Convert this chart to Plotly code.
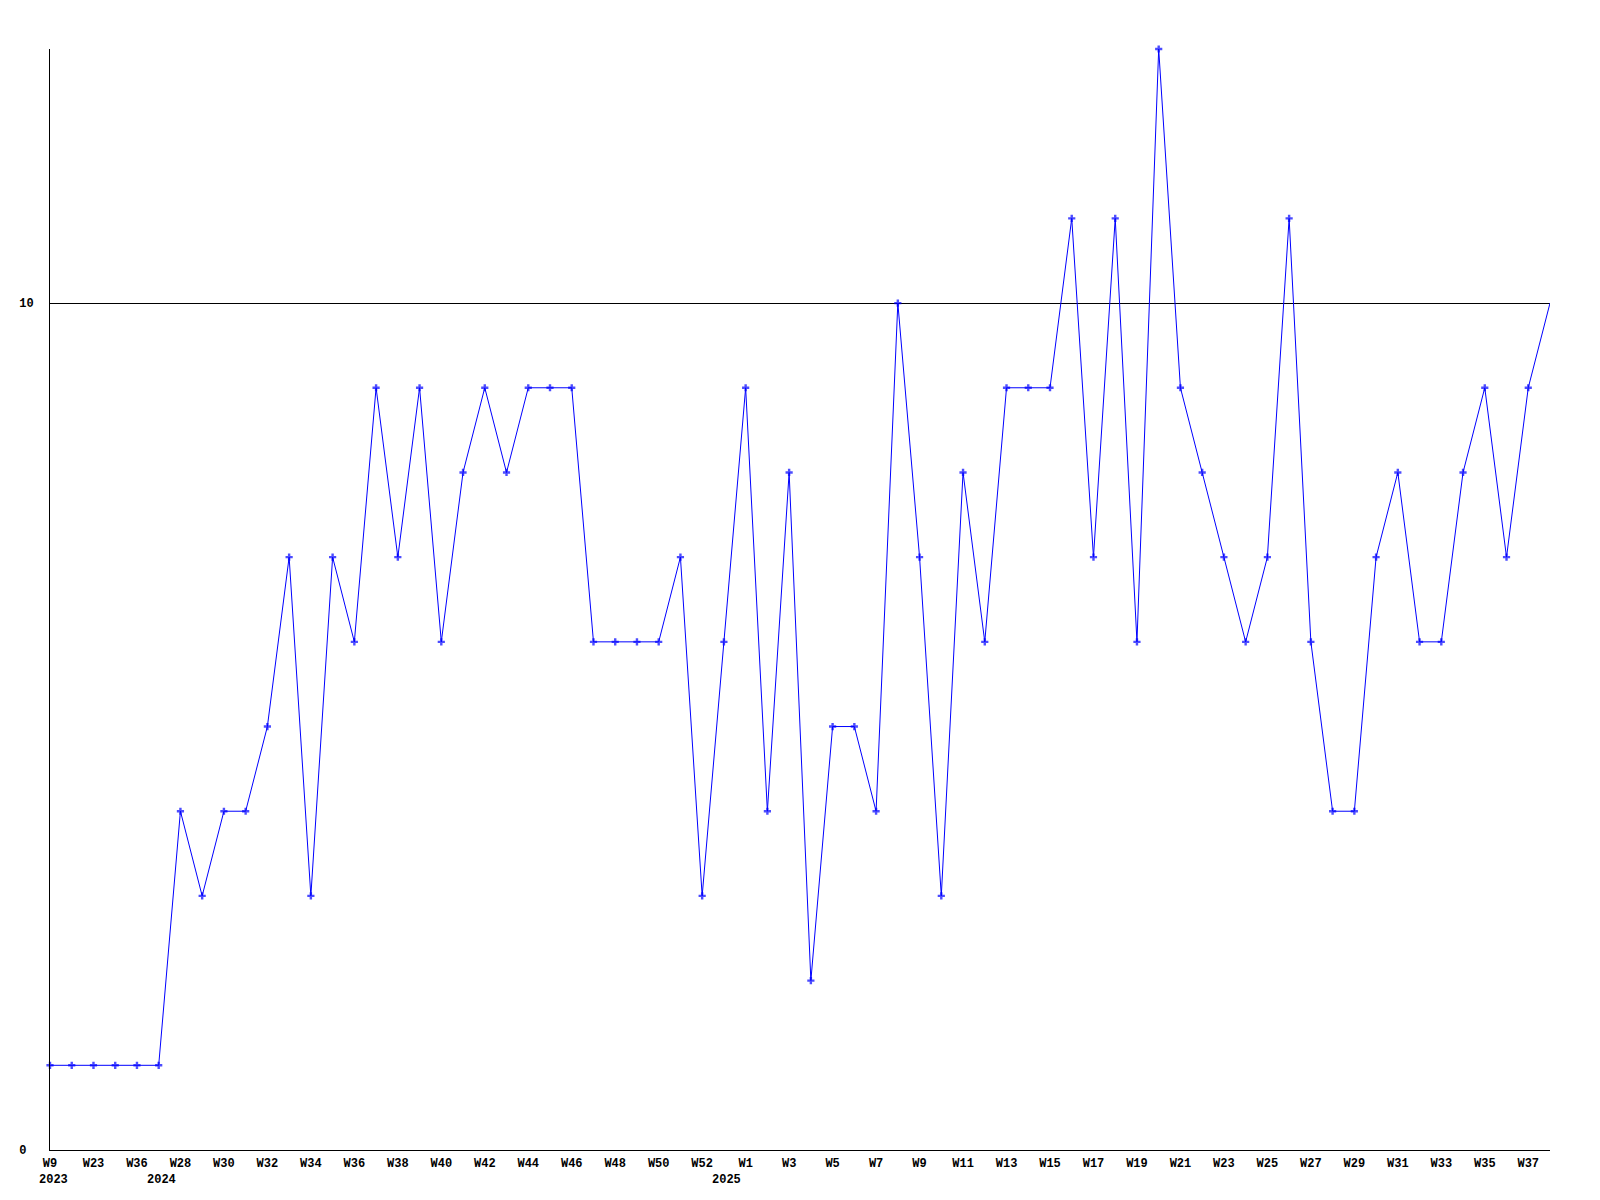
"""Weekly count line chart, 2023 W9 through 2025 W38."""
import plotly.graph_objects as go

BLUE = "#0000ff"
INK = "#000000"
FONT = dict(family="Liberation Mono, DejaVu Sans Mono, monospace", size=12, color=INK)

# one value per week, in order (last point has no marker in the original)
counts = [
    1, 1, 1, 1, 1, 1, 4, 3, 4, 4,
    5, 7, 3, 7, 6, 9, 7, 9, 6, 8,
    9, 8, 9, 9, 9, 6, 6, 6, 6, 7,
    3, 6, 9, 4, 8, 2, 5, 5, 4, 10,
    7, 3, 8, 6, 9, 9, 9, 11, 7, 11,
    6, 13, 9, 8, 7, 6, 7, 11, 6, 4,
    4, 7, 8, 6, 6, 8, 9, 7, 9, 10,
]

# labels shown under every second point
week_labels = [
    "W9", "W23", "W36", "W28", "W30", "W32", "W34", "W36", "W38", "W40",
    "W42", "W44", "W46", "W48", "W50", "W52", "W1", "W3", "W5", "W7",
    "W9", "W11", "W13", "W15", "W17", "W19", "W21", "W23", "W25", "W27",
    "W29", "W31", "W33", "W35", "W37",
]
years = ["2023", "2024", "2025"]
year_pos = [0, 5, 31]

x = list(range(len(counts)))
sizes = [6] * (len(counts) - 1) + [0]

fig = go.Figure(go.Scatter(
    x=x, y=counts, mode="lines+markers",
    line=dict(color=BLUE, width=1),
    marker=dict(symbol="cross", size=sizes, color=BLUE, line=dict(width=0)),
    hoverinfo="x+y",
    cliponaxis=False,
))

for yr, pos in zip(years, year_pos):
    fig.add_annotation(
        x=pos, y=0, yref="y", text=f"<b>{yr}</b>", showarrow=False,
        xanchor="center", yanchor="top", yshift=-21, xshift=3,
        font=FONT,
    )

# page body adds 8px on top/left, so margins are trimmed to compensate
fig.update_layout(
    width=1600, height=1200,
    margin=dict(l=42, r=58, t=41, b=58),
    paper_bgcolor="white", plot_bgcolor="white",
    showlegend=False,
    font=FONT,
    xaxis=dict(
        range=[0, len(counts) - 1],
        tickvals=x[::2], ticktext=[f"<b>{w}</b>" for w in week_labels],
        tickangle=0, automargin=False,
        showgrid=False, zeroline=False,
        showline=True, linecolor=INK, linewidth=1,
        ticks="", ticklabelstandoff=2,
    ),
    yaxis=dict(
        range=[0, 13], automargin=False,
        tickvals=[0, 10], ticktext=["<b>0\u00a0</b>", "<b>10</b>"],
        showgrid=True, gridcolor=INK, gridwidth=1,
        zeroline=False,
        showline=True, linecolor=INK, linewidth=1,
        ticks="", ticklabelstandoff=13,
    ),
)

fig.write_html("out.html")
